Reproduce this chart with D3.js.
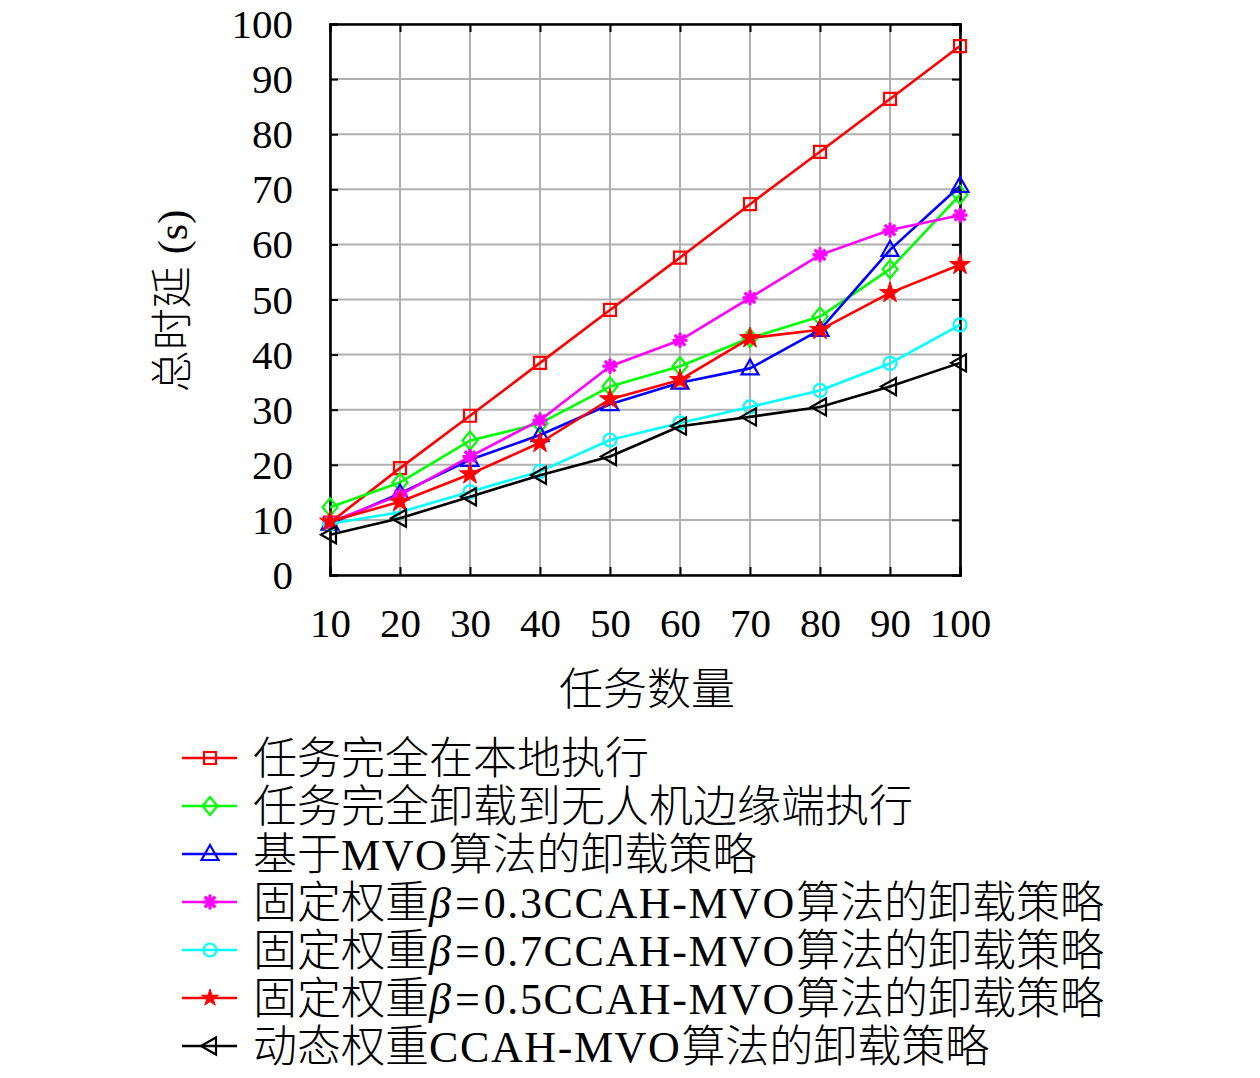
<!DOCTYPE html>
<html><head><meta charset="utf-8">
<script src="https://cdn.jsdelivr.net/npm/d3@7"></script>
<style>
html,body{margin:0;padding:0;background:#fff;}
text{font-family:"Liberation Serif","Noto Sans CJK SC",serif;fill:#000;}
.cjk{font-family:"Noto Sans CJK SC";font-weight:300;}
.lat{font-family:"Liberation Serif";letter-spacing:1.6px;}
</style></head>
<body>
<svg id="chart" width="1260" height="1078"></svg>
<script>
const tasks = [10,20,30,40,50,60,70,80,90,100];
const yTicks = [0,10,20,30,40,50,60,70,80,90,100];
const localExec = [9.5,19.4,28.9,38.5,48.1,57.6,67.3,76.8,86.4,96.0];
const uavExec   = [12.3,16.8,24.4,27.5,34.2,37.9,43.0,46.9,55.5,69.0];
const mvoExec   = [9.3,14.8,20.9,25.4,31.0,34.9,37.5,44.5,59.0,70.6];
const beta03    = [9.6,14.5,21.5,28.1,37.9,42.6,50.3,58.1,62.6,65.3];
const beta07    = [9.3,11.4,15.1,18.8,24.5,27.6,30.5,33.5,38.4,45.4];
const beta05    = [9.7,13.3,18.3,24.0,31.9,35.4,43.0,44.5,51.2,56.3];
const dynamic   = [7.3,10.3,14.2,18.1,21.5,27.0,28.7,30.5,34.2,38.5];

// legend label parts: [text, kind]
const seriesNames = [
  [["任务完全在本地执行","cjk"]],
  [["任务完全卸载到无人机边缘端执行","cjk"]],
  [["基于","cjk"],["MVO","lat"],["算法的卸载策略","cjk"]],
  [["固定权重","cjk"],["β","it"],["=","eq"],["0.3CCAH-MVO","lat"],["算法的卸载策略","cjk"]],
  [["固定权重","cjk"],["β","it"],["=","eq"],["0.7CCAH-MVO","lat"],["算法的卸载策略","cjk"]],
  [["固定权重","cjk"],["β","it"],["=","eq"],["0.5CCAH-MVO","lat"],["算法的卸载策略","cjk"]],
  [["动态权重","cjk"],["CCAH-MVO","lat"],["算法的卸载策略","cjk"]]
];
const seriesValues = [localExec, uavExec, mvoExec, beta03, beta07, beta05, dynamic];
const seriesColors = ["#ff0000","#00ff00","#0000ff","#ff00ff","#00ffff","#ff0000","#000000"];
const seriesMarkers = ["square","diamond","triangle","asterisk","circle","star","ltriangle"];

const svg = d3.select("#chart");
const x = d3.scaleLinear().domain([10,100]).range([330,960]);
const y = d3.scaleLinear().domain([0,100]).range([575,24]);

// grid
const g = svg.append("g");
g.selectAll(".vg").data(tasks).enter().append("line")
  .attr("x1",d=>x(d)).attr("x2",d=>x(d)).attr("y1",y(0)).attr("y2",y(100))
  .attr("stroke","#b0b0b0").attr("stroke-width",2);
g.selectAll(".hg").data(yTicks).enter().append("line")
  .attr("x1",x(10)).attr("x2",x(100)).attr("y1",d=>y(d)).attr("y2",d=>y(d))
  .attr("stroke","#b0b0b0").attr("stroke-width",2);

// axes with inward ticks
const tl = 8;
const axB = svg.append("g").attr("transform",`translate(0,${y(0)})`)
  .call(d3.axisBottom(x).tickValues(tasks).tickSize(-tl).tickPadding(40).tickFormat(d3.format("d")));
const axT = svg.append("g").attr("transform",`translate(0,${y(100)})`)
  .call(d3.axisTop(x).tickValues(tasks).tickSize(-tl).tickFormat(""));
const axL = svg.append("g").attr("transform",`translate(${x(10)},0)`)
  .call(d3.axisLeft(y).tickValues(yTicks).tickSize(-tl).tickPadding(37).tickFormat(d3.format("d")));
const axR = svg.append("g").attr("transform",`translate(${x(100)},0)`)
  .call(d3.axisRight(y).tickValues(yTicks).tickSize(-tl).tickFormat(""));
[axB,axT,axL,axR].forEach(a=>{
  a.select(".domain").attr("stroke","#000").attr("stroke-width",2.6);
  a.selectAll(".tick line").attr("stroke","#000").attr("stroke-width",2);
  a.selectAll("text").attr("font-size",41).attr("font-family","Liberation Serif");
});
axB.selectAll("text").attr("dy","0.71em").attr("y",33);
axL.selectAll("text").attr("dy","0.33em");

// axis labels
svg.append("text").attr("x",647).attr("y",705).attr("text-anchor","middle")
  .attr("class","cjk").attr("font-size",44).text("任务数量");
const yl = svg.append("text").attr("transform","translate(187,301) rotate(-90)").attr("text-anchor","middle")
  .attr("font-size",42);
yl.append("tspan").attr("class","cjk").text("总时延");
yl.append("tspan").attr("font-family","Liberation Serif").attr("dx",12).text("(s)");

// markers
function markerPath(type, small){
  switch(type){
    case "square": return "M-6,-6H6V6H-6Z";
    case "diamond": return "M0,-9L7.5,0L0,9L-7.5,0Z";
    case "triangle": return "M0,-9L8.5,6L-8.5,6Z";
    case "circle": return "M6.5,0A6.5,6.5 0 1,1 -6.5,0A6.5,6.5 0 1,1 6.5,0Z";
    case "ltriangle": return "M-9,0L6,-8.5L6,8.5Z";
    case "star": return d3.symbol(d3.symbolStar, small ? 90 : 135)();
    case "asterisk": {
      let p = "";
      for(let i=0;i<8;i++){const a=i*Math.PI/4; p += `M0,0L${(7.5*Math.cos(a)).toFixed(2)},${(7.5*Math.sin(a)).toFixed(2)}`;}
      return p;
    }
  }
}
function drawMarker(sel, type, color, small){
  const p = sel.append("path").attr("d", markerPath(type, small));
  if(type==="star"){ p.attr("fill",color).attr("stroke",color).attr("stroke-width",1); }
  else if(type==="asterisk"){ p.attr("fill","none").attr("stroke",color).attr("stroke-width",3.2); }
  else { p.attr("fill","none").attr("stroke",color).attr("stroke-width",2.2); }
}

const line = d3.line().x((d,i)=>x(tasks[i])).y(d=>y(d));
seriesValues.forEach((vals,si)=>{
  const col = seriesColors[si];
  const sg = svg.append("g");
  sg.append("path").datum(vals).attr("d",line).attr("fill","none")
    .attr("stroke",col).attr("stroke-width",2.6).attr("stroke-linejoin","round");
  sg.selectAll("g.m").data(vals).enter().append("g")
    .attr("transform",(d,i)=>`translate(${x(tasks[i])},${y(d)})`)
    .each(function(){ drawMarker(d3.select(this), seriesMarkers[si], col, false); });
});

// legend
const legY0 = 758, legDy = 48;
seriesNames.forEach((parts,si)=>{
  const yy = legY0 + si*legDy;
  const col = seriesColors[si];
  svg.append("line").attr("x1",182).attr("x2",237).attr("y1",yy).attr("y2",yy)
    .attr("stroke",col).attr("stroke-width",2.6);
  drawMarker(svg.append("g").attr("transform",`translate(210,${yy})`), seriesMarkers[si], col, true);
  const t = svg.append("text").attr("x",253).attr("y",yy).attr("dy","0.36em").attr("font-size",44);
  parts.forEach(([txt,kind])=>{
    const ts = t.append("tspan").text(txt);
    if(kind==="cjk") ts.attr("class","cjk");
    else if(kind==="lat") ts.attr("class","lat");
    else if(kind==="it") ts.attr("font-family","Liberation Serif").attr("font-style","italic");
    else if(kind==="eq") ts.attr("font-family","Liberation Serif").attr("dx",4).attr("letter-spacing","4px");
  });
});
</script>
</body></html>
